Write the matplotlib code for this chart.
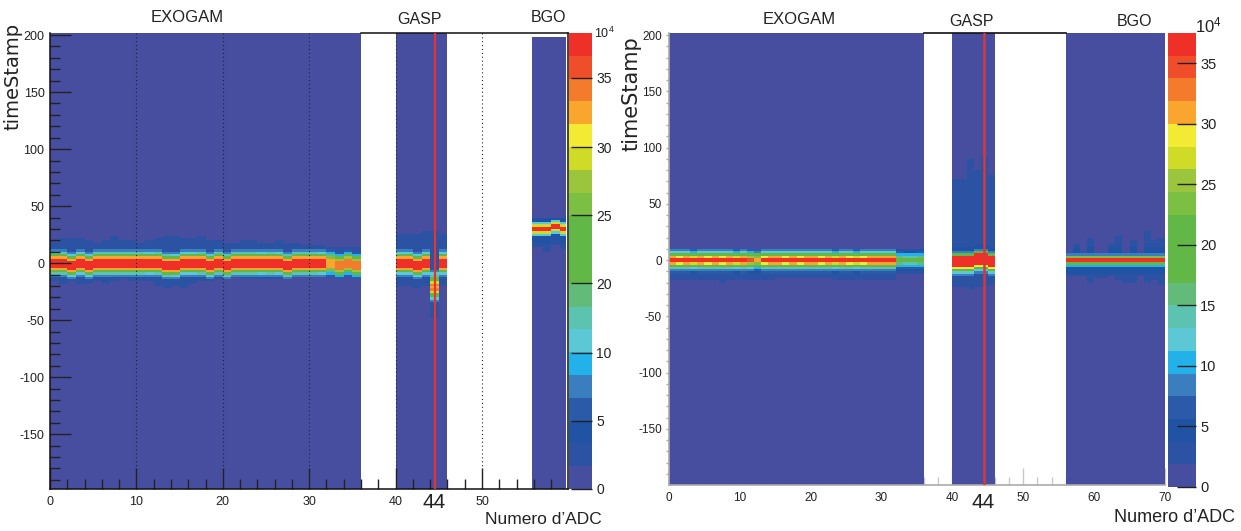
import numpy as np
import matplotlib
matplotlib.use('Agg')
import matplotlib.pyplot as plt
from matplotlib.colors import ListedColormap, Normalize

plt.rcParams['font.family'] = ['Liberation Sans', 'DejaVu Sans']
plt.rcParams['axes.unicode_minus'] = False

W, H = 1241, 531

# palette of the colour bar, bottom to top
palette = ['#474EA0', '#2C53A3', '#2053A4', '#2A5AA8', '#3A7EC0', '#22B2E9', '#5CC8D6',
           '#5CC3B0', '#63BB7A', '#62B846', '#62B846', '#62B846', '#7BBF43', '#9BC53C',
           '#D0DB27', '#F3EB33', '#FAA52D', '#F47B2B', '#F04E2A', '#EF3029']
vmax = 37.5
background = 0.5

y_edges = np.arange(-200, 204, 2)

# band profiles: offset from channel centre (time stamp), counts in 10^4
left_offsets = [12, 10, 8, 6, 4, 2, 0, -2, -4, -6, -8, -10]
left_profile = [8, 13, 20, 30, 38, 38, 38, 38, 30, 20, 13, 8]
left_spike_offsets = [14, 12, 10, 8, 6, 4, 2, 0, -2, -4, -6, -8, -10, -12]
left_spike_profile = [8, 12, 14, 18, 22, 28, 32, 30, 32, 28, 22, 18, 12, 8]
left_bgo_offsets = [6, 4, 2, 0, -2, -4]
left_bgo_profile = [12, 28, 40, 40, 28, 12]
right_offsets = [10, 8, 6, 4, 2, 0, -2, -4, -6, -8, -10]
right_profile = [8, 12, 22, 30, 40, 40, 30, 22, 14, 9, 6]
right_gasp_offsets = [8, 6, 4, 2, 0, -2, -4, -6, -8, -10, -12]
right_gasp_profile = [8, 20, 38, 38, 38, 38, 38, 29, 21, 12, 8]
right_bgo_offsets = [6, 4, 2, 0, -2, -4]
right_bgo_profile = [9, 24, 38, 38, 22, 10]

# left panel, per channel
left_exo_center = [0, 0, -2, 0, -2, 0, 0, 0, 0, 0, 0, 0, 0, -2, -2, 0, 0, 0, -2, 0,
                   -2, 0, 0, 0, 0, 0, 0, -2, 0, 0, 0, 0, 0, -2, 0, -2]
left_exo_scale = [1.05, 1.05, 1.0, 1.0, 1.0, 1.05, 1.05, 1.05, 1.05, 1.05, 1.05, 1.0,
                  1.05, 1.05, 1.0, 1.0, 1.0, 1.05, 1.0, 1.05, 1.05, 1.05, 1.05, 1.05,
                  1.0, 1.05, 1.0, 1.05, 1.05, 1.05, 1.05, 1.0, 0.8, 0.85, 0.85, 0.85]
left_exo_top = [20, 22, 22, 22, 20, 18, 20, 24, 20, 20, 18, 20, 22, 24, 24, 22, 22, 24,
                20, 20, 18, 18, 20, 20, 18, 18, 20, 18, 18, 16, 16, 16, 14, 14, 14, 14]
left_exo_bottom = [-16, -18, -16, -18, -18, -16, -18, -16, -14, -16, -16, -16, -20, -22,
                   -20, -22, -18, -16, -16, -14, -14, -12, -14, -14, -14, -14, -14, -14,
                   -12, -12, -12, -12, -12, -12, -12, -12]
left_gasp_center = [0, 0, -2, 0]
left_gasp_top = [26, 26, 26, 28]
left_gasp_bottom = [-20, -20, -22, -20]
left_spike_center = [-20]
left_spike_top = [28]
left_spike_bottom = [-48]
left_last_center = [0]
left_last_top = [26]
left_last_bottom = [-20]
left_bgo_center = [30, 30, 32, 30]
left_bgo_top = [40, 40, 40, 40]
left_bgo_bottom = [14, 10, 16, 12]

# right panel, per channel
right_exo_center = [0, 0, 0, 0, 0, 0, 0, 0, 0, 0, 0, 0, 0, 0, 0, 0, 0, 0, 0, 0,
                    0, 0, 0, 0, 0, 0, 0, 0, 0, 0, 0, 0, 0, 0, 0, 0]
right_exo_scale = [1.0, 0.95, 1.0, 0.9, 1.0, 0.95, 1.0, 0.95, 1.0, 0.9, 1.0, 0.85, 0.78,
                   0.95, 1.0, 1.0, 0.95, 1.0, 0.95, 1.0, 1.0, 0.95, 1.0, 0.9, 1.0, 0.95,
                   0.9, 0.95, 1.0, 1.0, 1.0, 1.0, 0.5, 0.45, 0.45, 0.5]
right_exo_top = [8, 8, 8, 8, 8, 8, 8, 8, 8, 8, 10, 10, 10, 8, 8, 8, 8, 8, 8, 8,
                 8, 8, 8, 8, 8, 8, 8, 8, 8, 8, 8, 8, 6, 6, 6, 6]
right_exo_bottom = [-18, -18, -18, -18, -18, -18, -18, -20, -18, -18, -18, -18, -18, -18,
                    -18, -16, -16, -16, -16, -16, -16, -16, -16, -18, -18, -18, -18, -18,
                    -18, -18, -18, -18, -12, -12, -12, -12]
right_gasp_center = [0, 0, 0, 2, 2, 0]
right_gasp_top = [72, 72, 90, 80, 92, 76]
right_gasp_bottom = [-24, -24, -26, -24, -24, -22]
right_bgo_center = [0, 0, 0, 0, 0, 0, 0, 0, 0, 0, 0, 0, 0, 0]
right_bgo_top = [6, 14, 6, 20, 6, 6, 14, 22, 6, 18, 6, 26, 18, 20]
right_bgo_bottom = [-14, -14, -14, -20, -16, -16, -14, -18, -20, -20, -14, -20, -18, -22]

# colour bar ticks (positions on the colour scale) and labels
left_bar_ticks = [0, 5.6, 11.2, 16.9, 22.5, 28.1, 33.8]
left_bar_labels = ['0', '5', '10', '20', '25', '30', '35']
right_bar_ticks = [0, 5, 10, 15, 20, 25, 30, 35]
right_bar_labels = ['0', '5', '10', '15', '20', '25', '30', '35']

y_ticks = [-150, -100, -50, 0, 50, 100, 150, 200]
y_minor = np.arange(-190, 200, 10)

cmap = ListedColormap(palette)
cmap.set_bad('white', 0)
norm = Normalize(0, vmax)


def channel(center, scale, offsets, profile, top, bottom):
    mids = (y_edges[:-1] + y_edges[1:]) / 2
    col = np.full(len(mids), background)
    col[(mids < top) & (mids > bottom)] = 2.6
    col[(mids < min(top, center + 13)) & (mids > max(bottom, center - 13))] = 4.2
    for off, val in zip(offsets, profile):
        i = np.argmin(abs(mids - (center + off - 1)))
        col[i] = val * scale
    return col


def draw_group(ax, x_edges, centers, scales, offsets, profile, tops, bottoms, y_lo=-210, y_hi=210):
    rows = [channel(centers[i], scales[i], offsets, profile, tops[i], bottoms[i])
            for i in range(len(centers))]
    data = np.array(rows).T
    mids = (y_edges[:-1] + y_edges[1:]) / 2
    data[(mids > y_hi) | (mids < y_lo), :] = np.nan
    return ax.pcolormesh(x_edges, y_edges, data, cmap=cmap, norm=norm, zorder=1, rasterized=True)


def px_axes(fig, x0, y0, x1, y1):
    return fig.add_axes([x0 / W, 1 - y1 / H, (x1 - x0) / W, (y1 - y0) / H])


def colorbar(fig, mesh, box, ticks, labels, tick_len, size):
    cax = px_axes(fig, *box)
    cb = fig.colorbar(mesh, cax=cax)
    cb.outline.set_visible(False)
    cb.set_ticks(ticks)
    cb.set_ticklabels(labels)
    cax.tick_params(axis='y', direction='in', length=tick_len, width=1, color='#222222',
                    labelsize=size, pad=3, labelcolor='#222222')
    return cax


fig = plt.figure(figsize=(W / 100, H / 100), dpi=100)

# left panel
ax = px_axes(fig, 50, 33, 568, 489)
draw_group(ax, np.arange(0, 37), left_exo_center, left_exo_scale, left_offsets, left_profile,
           left_exo_top, left_exo_bottom)
draw_group(ax, np.arange(40, 45), left_gasp_center, [1.0] * 4, left_offsets, left_profile,
           left_gasp_top, left_gasp_bottom)
draw_group(ax, np.arange(44, 46), left_spike_center, [1.0], left_spike_offsets, left_spike_profile,
           left_spike_top, left_spike_bottom)
draw_group(ax, np.arange(45, 47), left_last_center, [1.0], left_offsets, left_profile,
           left_last_top, left_last_bottom)
mesh = draw_group(ax, np.array([55.8, 57, 58, 59, 59.75]), left_bgo_center, [1.0] * 4,
                  left_bgo_offsets, left_bgo_profile, left_bgo_top, left_bgo_bottom, y_lo=-198, y_hi=197)
ax.set_xlim(0, 59.95)
ax.set_ylim(-198, 201.8)
ax.set_xticks(np.arange(0, 60, 10))
ax.set_xticks(np.arange(0, 60, 2), minor=True)
ax.set_yticks(y_ticks)
ax.set_yticks(y_minor, minor=True)
ax.tick_params(axis='both', which='major', direction='in', length=15, width=1, color='#222222',
               labelsize=9, labelcolor='#222222')
ax.tick_params(axis='both', which='minor', direction='in', length=7, width=1, color='#222222')
ax.tick_params(axis='x', which='major', pad=5)
ax.tick_params(axis='y', which='major', pad=4)
for x in [10, 20, 30, 40, 50]:
    ax.axvline(x, color='#222222', lw=0.8, ls=(0, (1, 2.5)), zorder=2)
ax.axvline(44.5, color='#E8322B', lw=1.6, zorder=4)
for s in ax.spines.values():
    s.set_color('#111111')
    s.set_linewidth(1.1)
ax.spines['top'].set_bounds(36, 59.95)
colorbar(fig, mesh, (569, 33, 592, 489), left_bar_ticks, left_bar_labels, 15, 10)

# right panel
ax2 = px_axes(fig, 669, 33, 1165, 485)
draw_group(ax2, np.arange(0, 37), right_exo_center, right_exo_scale, right_offsets, right_profile,
           right_exo_top, right_exo_bottom)
draw_group(ax2, np.arange(40, 47), right_gasp_center, [1.0] * 6, right_gasp_offsets, right_gasp_profile,
           right_gasp_top, right_gasp_bottom)
mesh2 = draw_group(ax2, np.arange(56, 71), right_bgo_center, [1.0] * 14, right_bgo_offsets,
                   right_bgo_profile, right_bgo_top, right_bgo_bottom)
ax2.set_xlim(0, 70)
ax2.set_ylim(-200, 202)
ax2.set_xticks(np.arange(0, 80, 10))
ax2.set_xticks(np.arange(0, 70, 2), minor=True)
ax2.set_yticks(y_ticks)
ax2.set_yticks(y_minor, minor=True)
ax2.set_axisbelow(True)
ax2.tick_params(axis='x', which='major', direction='in', length=12, width=1, color='#c8c8c8',
                labelsize=8.5, labelcolor='#222222', pad=5)
ax2.tick_params(axis='x', which='minor', direction='in', length=6, width=1, color='#c8c8c8')
ax2.tick_params(axis='y', which='major', direction='out', length=2, width=1, color='#aaaaaa',
                labelsize=8.5, labelcolor='#222222', pad=3)
ax2.tick_params(axis='y', which='minor', direction='out', length=2, width=1, color='#aaaaaa')
ax2.axvline(44.5, color='#D8383A', lw=1.8, zorder=4)
for name, s in ax2.spines.items():
    s.set_color('#aaaaaa')
    s.set_linewidth(1.2)
ax2.spines['top'].set_color('#111111')
ax2.spines['top'].set_bounds(36, 56)
ax2.spines['right'].set_visible(False)
colorbar(fig, mesh2, (1168, 33, 1196, 487), right_bar_ticks, right_bar_labels, 14, 10.5)


def label(x, y, txt, size, **kw):
    fig.text(x / W, 1 - y / H, txt, fontsize=size, color='#222222', ha='center', va='center', **kw)


label(187, 17, 'EXOGAM', 12)
label(420, 19, 'GASP', 11.5)
label(548, 18, 'BGO', 11.5)
label(799, 20, 'EXOGAM', 12)
label(972, 22, 'GASP', 11.5)
label(1134, 22, 'BGO', 11.5)
label(434, 503, '44', 15)
label(983, 503, '44', 15)
label(543, 519, 'Numero d\u2019ADC', 12.5)
label(1174, 518, 'Numero d\u2019ADC', 13)
label(604, 33, r'$\mathregular{10^{4}}$', 9)
label(1208, 25, r'$\mathregular{10^{4}}$', 12)
fig.text(13 / W, 1 - 76 / H, 'timeStamp', fontsize=14, rotation=90, color='#222222',
         ha='center', va='center', family='DejaVu Sans')
fig.text(631 / W, 1 - 94 / H, 'timeStamp', fontsize=15, rotation=90, color='#222222',
         ha='center', va='center', family='DejaVu Sans')

fig.savefig('out.png', dpi=100)
